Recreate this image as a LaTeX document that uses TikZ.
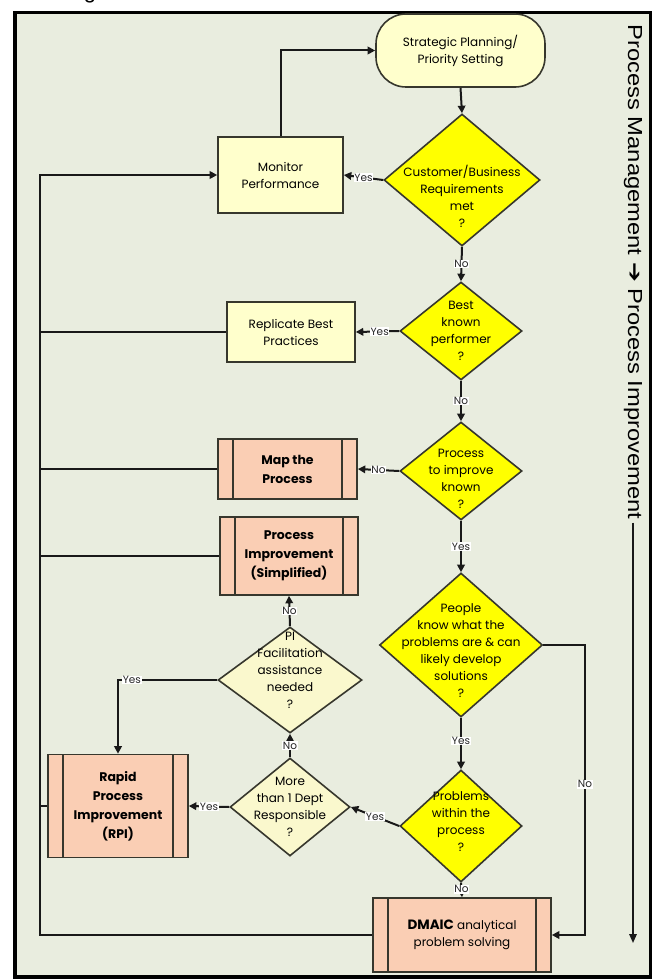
\documentclass[tikz,border=0pt]{standalone}
\usepackage{fontspec}
\usepackage{graphicx}
\setmainfont{Poppins}
\newfontfamily\lsans{Liberation Sans}
\newfontfamily\djv{DejaVu Sans}
\usetikzlibrary{shapes.geometric,arrows.meta}
\definecolor{bgc}{RGB}{233,237,223}
\definecolor{cream}{RGB}{255,255,204}
\definecolor{pale}{RGB}{250,248,205}
\definecolor{yel}{RGB}{255,255,0}
\definecolor{peach}{RGB}{250,206,180}
\definecolor{outl}{RGB}{55,55,45}
\definecolor{lc}{RGB}{25,25,25}
\newcommand\ntxt{\fontsize{12}{17}\selectfont}
\newcommand\ntxtb{\fontsize{12.5}{19}\selectfont\bfseries}
\begin{document}
\begin{tikzpicture}[x=1pt,y=-1pt,
  box/.style={draw=outl, line width=1.6pt, fill=cream, align=center, font=\ntxt, inner sep=0pt},
  dia/.style={diamond, draw=outl, line width=1.6pt, fill=yel, inner sep=0pt},
  pdia/.style={dia, fill=pale},
  dtxt/.style={align=center, font=\ntxt, inner sep=0pt},
  pproc/.style={box, fill=peach, font=\ntxtb,
    path picture={
      \draw[outl, line width=1.6pt] ([xshift=15pt]path picture bounding box.north west) -- ([xshift=15pt]path picture bounding box.south west);
      \draw[outl, line width=1.6pt] ([xshift=-15pt]path picture bounding box.north east) -- ([xshift=-15pt]path picture bounding box.south east);}},
  conn/.style={draw=lc, line width=2pt},
  arr/.style={conn, -{Triangle[length=7.5pt,width=7.5pt]}},
  lbl/.style={font=\fontsize{10.5}{10.5}\selectfont, fill=white, inner sep=0.6pt, text=black!85}
]
\useasboundingbox (0,0) rectangle (655,979);
\fill[white] (0,0) rectangle (655,979);
\node[font=\lsans\fontsize{22}{22}\selectfont, anchor=base, inner sep=0pt] (ttl) at (90,-1) {g};
\draw[line width=3.2pt, fill=bgc] (15,12.5) rectangle (650.5,977);

% nodes
\node[box, rounded corners=30pt, minimum width=169pt, minimum height=73pt] (stad) at (460.5,50.5) {Strategic Planning/\\Priority Setting};
\node[box, minimum width=125pt, minimum height=76pt] (mon) at (280.5,175) {Monitor\\Performance};
\node[dia, minimum width=156pt, minimum height=132pt,
  label={[dtxt, yshift=-16pt]center:{Customer/Business\\Requirements\\met\\?}}] (d1) at (462,180) {};
\node[box, minimum width=128pt, minimum height=60pt] (rep) at (291,332) {Replicate Best\\Practices};
\node[dia, minimum width=122pt, minimum height=98pt,
  label={[dtxt]center:{Best\\known\\performer\\?}}] (d2) at (461,331) {};
\node[pproc, minimum width=139pt, minimum height=60pt] (map) at (287.5,469) {Map the\\Process};
\node[dia, minimum width=122pt, minimum height=98pt,
  label={[dtxt, yshift=-8pt]center:{Process\\to improve\\known\\?}}] (d3) at (461,471) {};
\node[pproc, minimum width=138pt, minimum height=78pt] (pis) at (289,556) {Process\\Improvement\\(Simplified)};
\node[dia, minimum width=163pt, minimum height=144pt,
  label={[dtxt, yshift=-6pt]center:{People\\know what the\\problems are \& can\\likely develop\\solutions\\?}}] (d4) at (461,645) {};
\node[pdia, minimum width=144pt, minimum height=106pt,
  label={[dtxt, yshift=10pt]center:{PI\\Facilitation\\assistance\\needed\\?}}] (pi) at (290,680) {};
\node[pdia, minimum width=120pt, minimum height=98pt,
  label={[dtxt]center:{More\\than 1 Dept\\Responsible\\?}}] (mt) at (290,807) {};
\node[dia, minimum width=122pt, minimum height=112pt,
  label={[dtxt, yshift=4pt]center:{Problems\\within the\\process\\?}}] (d5) at (461,826) {};
\node[pproc, minimum width=140pt, minimum height=103pt] (rpi) at (118,806) {Rapid\\Process\\Improvement\\(RPI)};
\node[pproc, font=\ntxt, minimum width=178pt, minimum height=74pt] (dmaic) at (462,935) {{\fontsize{13.5}{17}\selectfont\textbf{DMAIC}} analytical\\problem solving};

% helper coordinates
\coordinate (bl) at (40,935);
\coordinate (tl) at (40,175);
\coordinate (rc) at (585,645);
\coordinate (ae) at (633,943);

% connectors
\draw[arr] (mon.north) |- (stad.west);
\draw[arr] (stad.south) -- (d1.north);
\draw[arr] (d1.west) -- (mon.east) node[lbl, pos=0.5] {Yes};
\draw[arr] (d1.south) -- (d2.north) node[lbl, pos=0.5] {No};
\draw[arr] (d2.west) -- (rep.east) node[lbl, pos=0.45] {Yes};
\draw[arr] (d2.south) -- (d3.north) node[lbl, pos=0.5] {No};
\draw[arr] (d3.west) -- (map.east) node[lbl, pos=0.5] {No};
\draw[arr] (d3.south) -- (d4.north) node[lbl, pos=0.5] {Yes};
\draw[arr] (d4.south) -- (d5.north) node[lbl, pos=0.45] {Yes};
\draw[arr] (d5.south) -- (dmaic.north) node[lbl, pos=0.45] {No};
\draw[arr] (d4.east) -- (rc) |- (dmaic.east) node[lbl, pos=0.24] {No};
\draw[arr] (d5.west) -- (mt.east) node[lbl, pos=0.5] {Yes};
\draw[arr] (mt.west) -- (rpi.east) node[lbl, pos=0.5] {Yes};
\draw[arr] (mt.north) -- (pi.south) node[lbl, pos=0.5] {No};
\draw[arr] (pi.north) -- (pis.south) node[lbl, pos=0.5] {No};
\draw[arr] (pi.west) -| (rpi.north) node[lbl, pos=0.43] {Yes};
\draw[arr] (dmaic.west) -- (bl) -- (tl) -- (mon.west);
\draw[conn] (rep.west) -- (rep.west -| bl);
\draw[conn] (map.west) -- (map.west -| bl);
\draw[conn] (pis.west) -- (pis.west -| bl);
\draw[conn] (rpi.west) -- (rpi.west -| bl);

% side annotation
\node[rotate=-90, inner sep=3pt, font=\lsans] (pm) at (633,272) {\resizebox{495pt}{14pt}{Process Management {\djv ➔} Process Improvement}};
\draw[conn, line width=1.6pt, -{Triangle[length=9pt,width=7.5pt]}] (pm.east) -- (ae);
\end{tikzpicture}
\end{document}
